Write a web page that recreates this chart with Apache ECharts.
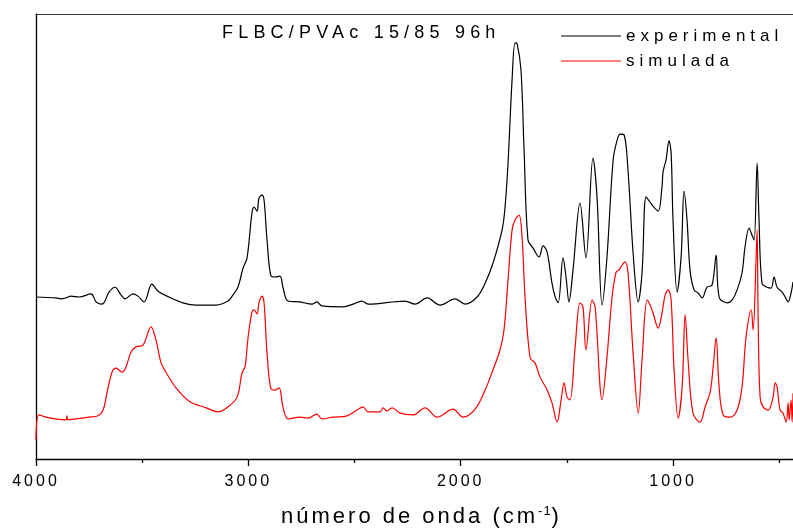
<!DOCTYPE html>
<html><head><meta charset="utf-8">
<script src="https://cdn.jsdelivr.net/npm/echarts@6/dist/echarts.min.js"></script>
<style>html,body{margin:0;padding:0;background:#fff}#c{width:793px;height:530px}</style>
</head><body><div id="c"></div>
<script>
// ---- data (wavenumber in cm-1, intensity in arbitrary units 0-100) ----
var expWavenumber = [4000,3906,3883,3859,3835,3797,3741,3717,3694,3680,3656,3628,3600,3581,3543,3520,3491,3454,3425,3374,3308,3246,3152,3096,3072,3049,3025,3006,2983,2973,2959,2950,2936,2926,2912,2893,2874,2851,2837,2813,2757,2700,2677,2653,2554,2507,2465,2436,2262,2215,2158,2097,2026,1979,1923,1885,1848,1805,1791,1777,1758,1744,1734,1716,1702,1683,1659,1631,1612,1593,1570,1555,1541,1518,1504,1490,1471,1438,1410,1377,1358,1334,1311,1282,1263,1249,1230,1212,1188,1164,1146,1127,1108,1094,1070,1052,1047,1033,1019,1009,1000,981,962,948,934,920,901,882,863,840,816,797,783,745,722,698,675,661,642,628,618,604,595,581,557,538,524,510,486,472,458,444,435];
var expIntensity = [36.4,36.2,36.0,36.2,36.6,36.4,37.1,35.3,34.8,35.1,37.5,38.6,36.9,36.0,37.1,36.6,35.3,39.3,37.7,36.4,35.1,34.6,34.6,35.5,36.9,38.6,42.9,45.2,55.3,56.6,55.7,58.6,59.3,58.2,49.2,41.1,40.9,41.1,38.6,35.5,35.3,34.8,35.3,34.4,34.2,34.8,35.5,34.8,35.5,34.8,36.2,34.6,36.0,34.8,36.4,39.5,44.0,51.5,56.6,66.5,85.2,93.5,93.3,87.4,70.1,49.2,47.4,45.4,47.9,46.5,39.5,36.4,35.1,45.2,40.9,35.3,42.5,57.5,45.2,67.6,58.9,34.6,45.4,67.2,71.7,73.0,72.8,64.9,46.3,35.3,41.8,58.9,57.7,56.8,55.7,61.1,64.5,67.2,71.5,68.8,53.7,37.5,45.4,60.2,53.7,42.5,38.0,37.3,36.2,38.6,39.1,45.8,36.4,35.1,35.7,38.0,41.8,47.6,51.9,50.3,49.2,66.5,53.7,39.5,38.6,38.4,40.9,38.6,37.5,36.4,35.3,37.3,39.8];

var simWavenumber = [4000,3986,3953,3906,3859,3854,3850,3812,3750,3708,3684,3666,3642,3623,3595,3576,3553,3529,3496,3458,3435,3411,3388,3341,3279,3199,3143,3096,3053,3030,3016,3001,2983,2973,2959,2950,2936,2926,2912,2893,2874,2855,2837,2813,2757,2719,2677,2653,2601,2535,2488,2460,2436,2380,2366,2347,2323,2285,2224,2168,2111,2036,1989,1932,1885,1848,1815,1796,1777,1758,1744,1725,1711,1697,1673,1650,1626,1593,1570,1546,1527,1513,1499,1485,1461,1438,1424,1410,1381,1367,1334,1311,1287,1268,1254,1249,1226,1212,1188,1164,1146,1122,1108,1094,1070,1052,1037,1023,1009,995,976,957,943,929,906,873,849,825,811,797,783,764,731,698,675,656,632,623,609,604,599,590,576,552,529,519,510,496,482,467,458,453,444,439,435];
var simIntensity = [4.3,9.9,9.4,9.0,8.8,9.7,8.8,9.0,9.4,9.7,11.0,14.8,19.5,20.4,19.5,20.7,24.0,25.2,25.6,29.7,26.7,21.6,19.5,16.0,13.0,11.5,10.6,11.7,13.9,19.3,20.7,27.4,33.0,33.5,32.6,35.1,36.6,35.1,23.8,15.7,15.5,16.0,11.7,9.0,9.4,9.2,10.1,9.0,9.4,9.7,11.0,11.7,10.6,10.6,11.5,10.8,11.5,10.3,9.9,11.5,9.4,11.2,9.4,11.2,15.5,20.0,24.5,29.0,40.2,51.5,53.7,54.8,49.9,36.4,22.7,21.6,18.4,15.5,12.6,8.3,13.3,17.1,13.9,13.3,25.2,35.1,34.2,24.5,35.7,34.2,13.3,22.9,36.4,42.0,42.5,42.9,44.3,41.8,23.8,10.3,22.2,35.7,34.6,32.8,29.4,32.8,36.9,38.0,35.7,20.0,9.2,16.2,32.4,22.2,10.3,8.3,11.7,15.1,20.7,27.2,16.2,9.9,9.4,11.0,16.2,27.4,33.5,29.0,44.7,51.5,31.2,13.9,11.7,11.0,13.9,17.1,16.2,11.0,10.3,8.3,12.6,8.8,13.3,8.3,14.8];

var majorTicks = [4000, 3000, 2000, 1000];
var minorTicks = [3500, 2500, 1500, 500];
var seriesNames = ['experimental', 'simulada'];
var chartTitle = 'FLBC/PVAc 15/85 96h';

// ---- letter spacing emulation (Origin-style spaced text) ----
(function(){
  var spacing = {18:5.2, 17:5, 16:3, 22:3, 13:1};
  [window.CanvasRenderingContext2D, window.OffscreenCanvasRenderingContext2D].forEach(function(C){
    if (!C) return;
    var proto = C.prototype;
    if (!('letterSpacing' in proto)) return;
    var d = Object.getOwnPropertyDescriptor(proto, 'font');
    if (!d || !d.set) return;
    Object.defineProperty(proto, 'font', {
      configurable: true, enumerable: d.enumerable,
      get: function(){ return d.get.call(this); },
      set: function(v){
        d.set.call(this, v);
        var m = /([\d.]+)px/.exec(v);
        var s = (m && spacing[Math.round(+m[1])]) || 0;
        this.letterSpacing = s + 'px';
      }
    });
  });
})();

var FONT = '"Liberation Sans", Arial, sans-serif';
function pairs(xs, ys){ return xs.map(function(x, i){ return [x, ys[i]]; }); }

var chart = echarts.init(document.getElementById('c'), null, {renderer: 'canvas'});
chart.setOption({
  animation: false,
  backgroundColor: '#fff',
  title: {
    text: chartTitle, left: 222, top: 21, padding: 0,
    textStyle: {fontSize: 18, fontWeight: 'normal', color: '#000', fontFamily: FONT}
  },
  legend: {
    orient: 'vertical', left: 561, top: 25, padding: 0,
    itemWidth: 60, itemHeight: 1.2, itemGap: 3, icon: 'rect',
    data: seriesNames,
    textStyle: {fontSize: 17, color: '#000', fontFamily: FONT}
  },
  grid: {left: 36, right: 0, top: 14, bottom: 71, containLabel: false, outerBoundsMode: 'none'},
  xAxis: [{
    type: 'value', inverse: true, min: 435, max: 4000,
    position: 'bottom',
    axisLine: {show: true, onZero: false, lineStyle: {color: '#000', width: 1.3}},
    axisTick: {show: true, length: 7, customValues: majorTicks, lineStyle: {color: '#000', width: 1.3}},
    axisLabel: {show: true, customValues: majorTicks, margin: 13, fontSize: 16, color: '#000', fontFamily: FONT,
      formatter: function(v){ return String(v); }},
    splitLine: {show: false},
    name: 'número de onda (cm{sup|-1})', nameLocation: 'middle', nameGap: 45,
    nameTextStyle: {fontSize: 22, color: '#000', fontFamily: FONT, padding: [0, 0, 0, 14],
      rich: {sup: {fontSize: 13, color: '#000', fontFamily: FONT, verticalAlign: 'top', padding: [0, 0, 8, 0]}}}
  }, {
    type: 'value', inverse: true, min: 435, max: 4000, position: 'bottom',
    axisLine: {show: false},
    axisTick: {show: true, length: 4, customValues: minorTicks, lineStyle: {color: '#000', width: 1.3}},
    axisLabel: {show: false}, splitLine: {show: false}
  }, {
    type: 'value', inverse: true, min: 435, max: 4000, position: 'top',
    axisLine: {show: true, onZero: false, lineStyle: {color: '#333', width: 1.2}},
    axisTick: {show: false}, axisLabel: {show: false}, splitLine: {show: false}
  }],
  yAxis: {
    type: 'value', min: 0, max: 100,
    axisLine: {show: true, onZero: false, lineStyle: {color: '#000', width: 1.3}},
    axisTick: {show: false}, axisLabel: {show: false}, splitLine: {show: false}
  },
  series: [{
    name: seriesNames[0], type: 'line', symbol: 'none', showSymbol: false,
    smooth: 0.35,
    data: pairs(expWavenumber, expIntensity),
    lineStyle: {color: '#000', width: 1.2}, itemStyle: {color: '#000'}
  }, {
    name: seriesNames[1], type: 'line', symbol: 'none', showSymbol: false,
    smooth: 0.35,
    data: pairs(simWavenumber, simIntensity),
    lineStyle: {color: '#ff0000', width: 1.2}, itemStyle: {color: '#ff0000'}
  }]
});
</script></body></html>
